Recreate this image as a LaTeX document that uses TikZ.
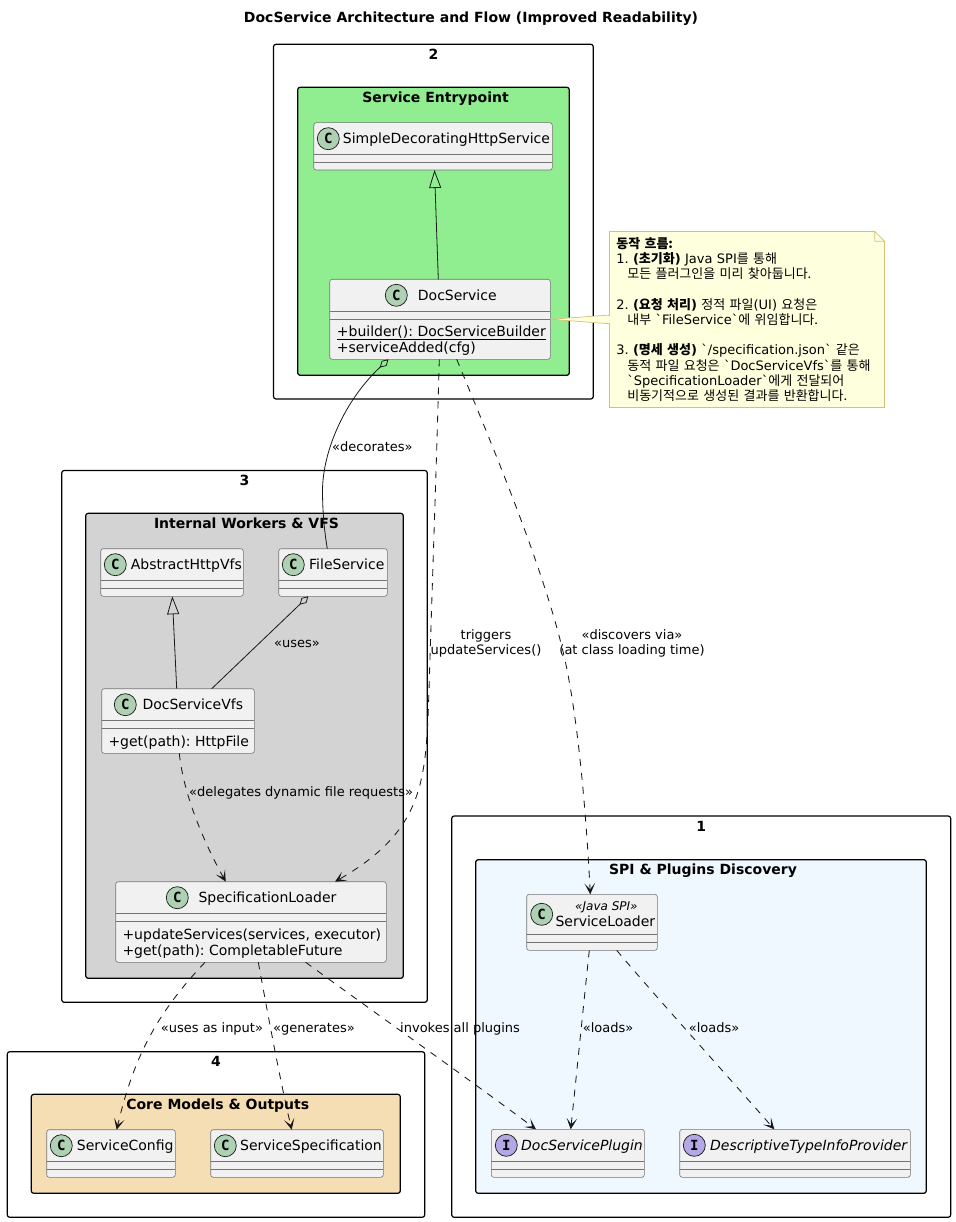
\documentclass[tikz,border=0pt]{standalone}
\usepackage{fontspec}
\setmainfont{DejaVu Sans}
\newfontfamily\ko{Noto Sans CJK KR}
\newfontfamily\spotfont{DejaVu Sans Mono}
\usetikzlibrary{arrows.meta,positioning,shapes}
\definecolor{linecol}{HTML}{181818}
\definecolor{classfill}{HTML}{F1F1F1}
\definecolor{classspot}{HTML}{ADD1B2}
\definecolor{ifacespot}{HTML}{B4A7E5}
\definecolor{notefill}{HTML}{FEFFDD}
\definecolor{noteline}{HTML}{D6C078}
\definecolor{svcgreen}{HTML}{90EE90}
\definecolor{workgray}{HTML}{D3D3D3}
\definecolor{corewheat}{HTML}{F5DEB3}
\definecolor{spiblue}{HTML}{F0F8FF}
\tikzset{
  pkgbox/.style={draw=black,line width=1.2pt,rounded corners=2.5pt,inner sep=0pt,outer sep=0pt},
  pkgtitle/.style={font=\fontsize{14}{16}\selectfont\bfseries,inner sep=0pt,anchor=base},
  classbox/.style={draw=linecol!60,fill=classfill,line width=0.6pt,rounded corners=2.5pt,inner sep=0pt,outer sep=0pt},
  divider/.style={draw=linecol!60,line width=0.6pt},
  spot/.style={circle,draw=linecol,line width=0.7pt,minimum size=22pt,inner sep=0pt,font=\fontsize{14}{14}\spotfont\bfseries\selectfont},
  classname/.style={font=\fontsize{14}{16}\selectfont,inner sep=0pt,anchor=base west},
  linklabel/.style={font=\fontsize{13}{15}\selectfont,inner sep=0pt,anchor=base west},
  linkbreak/.style={font=\fontsize{13}{15}\selectfont,inner sep=0pt,align=center},
  notebox/.style={draw=noteline,fill=notefill,line width=0.7pt,minimum width=275pt,minimum height=175.6pt,
    inner sep=0pt,text width=261pt,align=left,font=\fontsize{13}{15.2}\selectfont},
  solidlink/.style={draw=linecol,line width=0.8pt},
  dashlink/.style={draw=linecol,line width=0.85pt,dash pattern=on 7pt off 7pt,-{Stealth[length=11pt,width=10.5pt,inset=6pt]}},
  extendslink/.style={solidlink,-{Triangle[open,length=18pt,width=12pt]}},
  holdlink/.style={solidlink,{Diamond[open,length=12pt,width=7pt]}-}
}
\frenchspacing
\begin{document}
\begin{tikzpicture}[x=1pt,y=-1pt]
  \useasboundingbox (0,0) rectangle (955,1222);
  \node[pkgtitle] (diagramtitle) at (471,23) {DocService Architecture and Flow (Improved Readability)};

  % outer and inner packages
  \foreach \id/\xa/\ya/\xb/\yb/\col/\tdx/\ttl in {
      pkgtwo/273.5/44.3/593.3/399/white/0/2,
      pkgthree/61.7/470.5/427.3/1002.3/white/0/3,
      pkgfour/7.3/1051.7/424.7/1217.3/white/0/4,
      pkgone/451.7/816/950.7/1217.3/white/0/1,
      entry/297.7/87.3/569.3/375.3/svcgreen/2/Service Entrypoint,
      workers/85.7/513.3/403.3/978.3/workgray/2/Internal Workers \& VFS,
      core/31.3/1094.3/400.3/1193.3/corewheat/2/Core Models \& Outputs,
      spi/475.7/859.7/926.3/1193.3/spiblue/2/SPI \& Plugins Discovery} {
    \node[pkgbox,fill=\col,minimum width={(\xb-\xa)*1pt},minimum height={(\yb-\ya)*1pt}] (\id) at ({(\xa+\xb)/2},{(\ya+\yb)/2}) {};
    \node[pkgtitle] (\id title) at ({(\xa+\xb)/2+\tdx},{\ya+15}) {\ttl};
  }

  % classes: box, two dividers, spot, name
  \foreach \id/\xa/\ya/\xb/\yb/\cx/\tx/\spt/\ltr/\lbl in {
      decorating/313.7/122.7/552.3/170/328.3/342.7/classspot/C/SimpleDecoratingHttpService,
      docservice/329.7/279.3/550.3/359.3/396.3/417.7/classspot/C/DocService,
      abstractvfs/100.7/548.7/243.3/596.3/115.3/130.7/classspot/C/AbstractHttpVfs,
      fileservice/278.7/548.7/387.3/596.3/293.3/309/classspot/C/FileService,
      docvfs/101.7/688.7/254.3/753.3/125.3/142.3/classspot/C/DocServiceVfs,
      specloader/115.7/881.7/386.3/962.3/177.3/198.3/classspot/C/SpecificationLoader,
      svcconfig/46.7/1129.7/175.3/1177.3/61.3/76.7/classspot/C/ServiceConfig,
      svcspec/210.7/1129.7/383.3/1177.3/225.3/240/classspot/C/ServiceSpecification,
      plugin/491.3/1129.3/644.3/1177.3/506.3/521/ifacespot/I/\itshape DocServicePlugin,
      typeinfo/679.7/1129.3/910.3/1177.3/694.3/710/ifacespot/I/\itshape DescriptiveTypeInfoProvider} {
    \node[classbox,minimum width={(\xb-\xa)*1pt},minimum height={(\yb-\ya)*1pt}] (\id) at ({(\xa+\xb)/2},{(\ya+\yb)/2}) {};
    \draw[divider] ({\xa},{\ya+32}) -- ({\xb},{\ya+32}) ({\xa},{\ya+40}) -- ({\xb},{\ya+40});
    \node[spot,fill=\spt] (\id spot) at ({\cx},{\ya+16}) {\ltr};
    \node[classname] (\id name) at ({\tx},{\ya+21}) {\lbl};
  }

  % the one class with a stereotype
  \node[classbox,minimum width=130.6pt,minimum height=56pt] (svcloader) at (592,922.3) {};
  \draw[divider] (526.7,934.3) -- (657.3,934.3) (526.7,942.3) -- (657.3,942.3);
  \node[spot,fill=classspot] (svcloaderspot) at (541.7,914.3) {C};
  \node[linklabel,font=\fontsize{12}{14}\selectfont\itshape] (svcloaderstereo) at (575,910) {«Java SPI»};
  \node[classname] (svcloadername) at (555.3,926) {ServiceLoader};

  % members
  \node[classname] (builder) at (336.7,336) {\underline{+builder(): DocServiceBuilder}};
  \node[classname] (svcadded) at (336.7,352.7) {+serviceAdded(cfg)};
  \node[classname] (vfsget) at (108.3,746) {+get(path): HttpFile};
  \node[classname] (updatesvc) at (122.3,939) {+updateServices(services, executor)};
  \node[classname] (loaderget) at (122.3,955) {+get(path): CompletableFuture};

  % note
  \node[notebox] (flownote) at (746.8,319.5) {\textbf{{\ko 동작 흐름:}}\\
    1. \textbf{({\ko 초기화})} Java SPI{\ko 를 통해}\\
    \hspace*{11pt}{\ko 모든 플러그인을 미리 찾아둡니다.}\\[15.2pt]
    2. \textbf{({\ko 요청 처리})} {\ko 정적 파일}(UI) {\ko 요청은}\\
    \hspace*{11pt}{\ko 내부} \textasciigrave FileService\textasciigrave{\ko 에 위임합니다.}\\[15.2pt]
    3. \textbf{({\ko 명세 생성})} \textasciigrave/specification.json\textasciigrave\ {\ko 같은}\\
    \hspace*{11pt}{\ko 동적 파일 요청은} \textasciigrave DocServiceVfs\textasciigrave{\ko 를 통해}\\
    \hspace*{11pt}\textasciigrave SpecificationLoader\textasciigrave{\ko 에게 전달되어}\\
    \hspace*{11pt}{\ko 비동기적으로 생성된 결과를 반환합니다.}};
  \fill[white] ([xshift=-10pt]flownote.north east) -- ([xshift=1pt,yshift=1pt]flownote.north east) -- ([yshift=-10pt]flownote.north east) -- cycle;
  \draw[noteline,line width=0.7pt,fill=notefill] ([xshift=-10pt]flownote.north east) -- ([xshift=-10pt,yshift=-10pt]flownote.north east) -- ([yshift=-10pt]flownote.north east) -- cycle;
  \draw[noteline,line width=0.7pt,fill=notefill] (docservice.east) -- ([yshift=4.4pt]flownote.west) -- ([yshift=-4.2pt]flownote.west) -- cycle;
  \fill[notefill] ([xshift=-1pt,yshift=3.9pt]flownote.west) rectangle ([xshift=1pt,yshift=-3.7pt]flownote.west);

  % connectors
  \draw[extendslink] ([xshift=-1.7pt]docservice.north) -- ([xshift=1.5pt]decorating.south);
  \draw[extendslink] ([xshift=-1.3pt]docvfs.north) -- ([xshift=0.3pt]abstractvfs.south);
  \draw[holdlink] ([xshift=-51.5pt]docservice.south) .. controls (345,400) and (323,450) .. (322.5,490) .. controls (322.5,515) and (325,535) .. ([xshift=-5.7pt]fileservice.north);
  \draw[holdlink] ([xshift=-24.7pt]fileservice.south) -- ([xshift=33.7pt]docvfs.north);
  \draw[dashlink] ([xshift=-0.7pt]docservice.south) .. controls (436,480) and (433,560) .. (429,690) .. controls (426,780) and (425,830) .. ([xshift=84pt]specloader.north);
  \draw[dashlink] ([xshift=16.7pt]docservice.south) .. controls (490,440) and (545,570) .. (565,660) .. controls (578,720) and (586,810) .. ([xshift=-1.7pt]svcloader.north);
  \draw[dashlink] ([xshift=1.3pt]docvfs.south) .. controls (183,790) and (200,835) .. ([xshift=-25.3pt]specloader.north);
  \draw[dashlink] ([xshift=-46pt]specloader.south) .. controls (155,1015) and (133,1060) .. ([xshift=5.7pt]svcconfig.north);
  \draw[dashlink] ([xshift=7.3pt]specloader.south) .. controls (268,1015) and (280,1080) .. ([xshift=-5.3pt]svcspec.north);
  \draw[dashlink] ([xshift=54.7pt]specloader.south) .. controls (360,1002) and (470,1080) .. ([xshift=-31.8pt]plugin.north);
  \draw[dashlink] ([xshift=-2.7pt]svcloader.south) .. controls (583,1010) and (577,1070) .. ([xshift=2.9pt]plugin.north);
  \draw[dashlink] ([xshift=24.7pt]svcloader.south) .. controls (650,990) and (715,1062) .. ([xshift=-20.7pt]typeinfo.north);

  % labels
  \node[linklabel] (decorateslabel) at (332,451.5) {«decorates»};
  \node[linklabel] (useslabel) at (274,647) {«uses»};
  \node[linklabel] (delegateslabel) at (189,796) {«delegates dynamic file requests»};
  \node[linkbreak] (triggerslabel) at (486,643.5) {triggers\\updateServices()};
  \node[linkbreak] (discoverslabel) at (632,643.5) {«discovers via»\\(at class loading time)};
  \node[linklabel] (inputlabel) at (160.7,1032) {«uses as input»};
  \node[linklabel] (generateslabel) at (273,1032) {«generates»};
  \node[linklabel] (invokeslabel) at (400,1032) {invokes all plugins};
  \node[linklabel] (loadsone) at (582.7,1032) {«loads»};
  \node[linklabel] (loadstwo) at (688.7,1032) {«loads»};
\end{tikzpicture}
\end{document}
